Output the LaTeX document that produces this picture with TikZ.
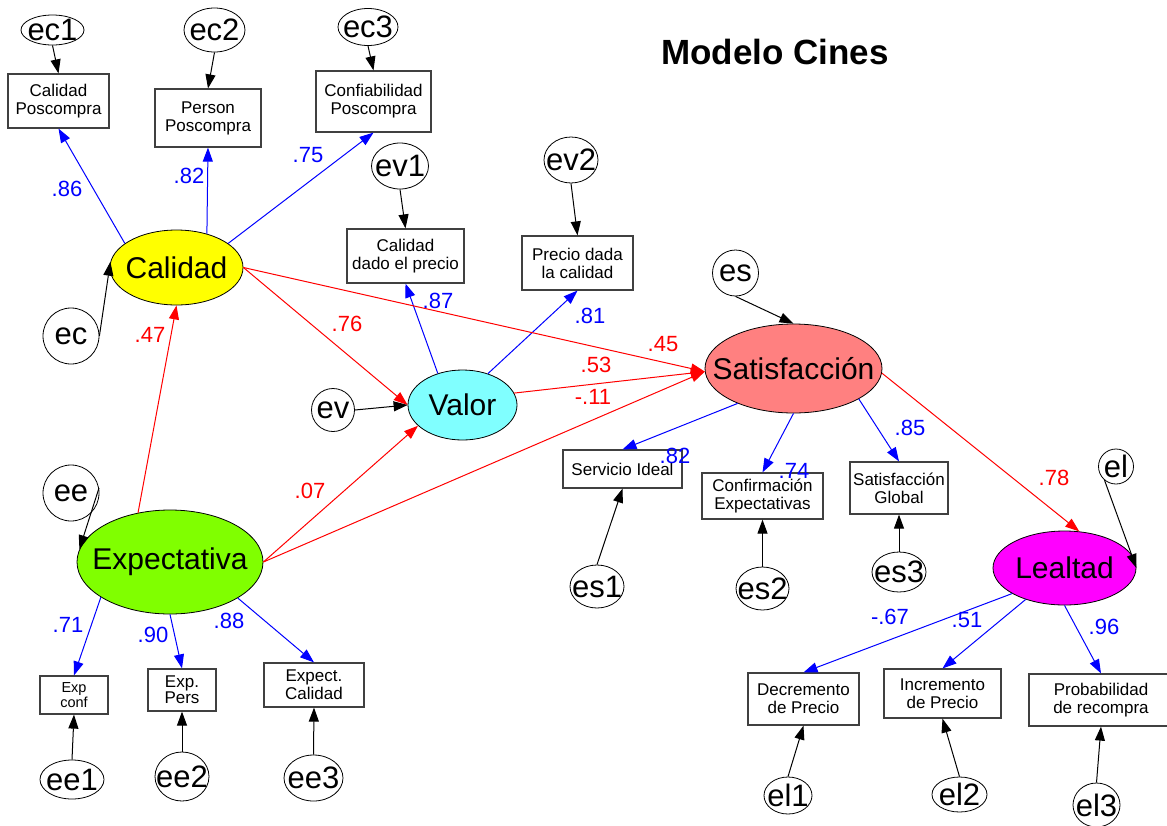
\documentclass[tikz,border=0pt]{standalone}
\usepackage{fontspec}
\setmainfont{Liberation Sans}
\usetikzlibrary{shapes.geometric,arrows.meta}
\definecolor{amosyellow}{RGB}{255,255,0}
\definecolor{amosgreen}{RGB}{128,255,0}
\definecolor{amoscyan}{RGB}{128,255,255}
\definecolor{amossalmon}{RGB}{255,128,128}
\definecolor{amosmagenta}{RGB}{255,0,255}

\tikzset{
  latent/.style={ellipse, draw, line width=0.8pt, inner sep=0pt,
    label={[inner sep=0pt, font=\fontsize{30}{32}\selectfont]center:#1}},
  err/.style={ellipse, draw, line width=0.8pt, inner sep=0pt,
    label={[inner sep=0pt, font=\fontsize{31}{33}\selectfont]center:#1}},
  obs/.style={rectangle, draw=black!75, line width=1.2pt, inner sep=0pt,
    align=center, font=\fontsize{17}{18}\selectfont},
  coef/.style={inner sep=0pt, font=\fontsize{22}{24}\selectfont},
  tip/.style={-{Triangle[length=14pt,width=10pt]}, line width=1pt},
  load/.style={tip, blue},
  reg/.style={tip, red},
  res/.style={tip, black}
}

\begin{document}
\begin{tikzpicture}[x=1pt, y=-1pt]
    \useasboundingbox (0,0) rectangle (1167,825);

    \node[font=\bfseries\fontsize{35}{38}\selectfont] (titulo) at (775,52) {Modelo Cines};

    % latentes
    \node[latent=Calidad, fill=amosyellow, minimum width=133pt, minimum height=75pt] (Cal) at (176.5,267.5) {};
    \node[latent=Expectativa, fill=amosgreen, minimum width=186pt, minimum height=104pt] (Exp) at (170,562) {};
    \node[latent=Valor, fill=amoscyan, minimum width=109pt, minimum height=70pt] (Val) at (462.5,405) {};
    \node[latent=Satisfacción, fill=amossalmon, minimum width=177pt, minimum height=89pt] (Sat) at (793.5,368.5) {};
    \node[latent=Lealtad, fill=amosmagenta, minimum width=143pt, minimum height=74pt] (Lea) at (1064.5,568) {};

    % indicadores
    \node[obs, minimum width=101pt, minimum height=54pt] (CalPos) at (58.5,101) {Calidad\\Poscompra};
    \node[obs, minimum width=106pt, minimum height=58pt] (PerPos) at (208,118) {Person\\Poscompra};
    \node[obs, minimum width=115pt, minimum height=61pt] (ConfPos) at (373.5,101.5) {Confiabilidad\\Poscompra};
    \node[obs, minimum width=117pt, minimum height=54pt] (CalDado) at (405.5,256) {Calidad\\dado el precio};
    \node[obs, minimum width=111pt, minimum height=54pt] (PreCal) at (577.5,263) {Precio dada\\la calidad};
    \node[obs, minimum width=119pt, minimum height=38pt] (ServId) at (622.5,469) {Servicio Ideal};
    \node[obs, minimum width=121pt, minimum height=46pt] (ConfExp) at (762.5,496) {Confirmación\\Expectativas};
    \node[obs, minimum width=98pt, minimum height=52pt] (SatGlob) at (899,488) {Satisfacción\\Global};
    \node[obs, minimum width=111pt, minimum height=52pt] (DecPre) at (803.5,699) {Decremento\\de Precio};
    \node[obs, minimum width=117pt, minimum height=49pt] (IncPre) at (942.5,693.5) {Incremento\\de Precio};
    \node[obs, minimum width=144pt, minimum height=52pt] (ProbRec) at (1101,700) {Probabilidad\\de recompra};
    \node[obs, minimum width=68pt, minimum height=38pt, font=\fontsize{14.5}{15}\selectfont] (ExpConf) at (74,695) {Exp\\conf};
    \node[obs, minimum width=68pt, minimum height=42pt, font=\fontsize{17}{15}\selectfont] (ExpPers) at (182,690) {Exp.\\Pers};
    \node[obs, minimum width=100pt, minimum height=44pt] (ExpCal) at (314,685) {Expect.\\Calidad};

    % errores
    \node[err=ec1, minimum width=63pt, minimum height=30pt] (ec1) at (52.5,30) {};
    \node[err=ec2, minimum width=61pt, minimum height=44pt] (ec2) at (214.5,30) {};
    \node[err=ec3, minimum width=60pt, minimum height=37pt] (ec3) at (368,27) {};
    \node[err=ec, minimum width=56pt, minimum height=56pt] (ec) at (71,336) {};
    \node[err=ee, minimum width=56pt, minimum height=56pt] (ee) at (71,493) {};
    \node[err=ev, minimum width=43pt, minimum height=43pt] (ev) at (333,410) {};
    \node[err=ev1, minimum width=57pt, minimum height=46pt] (ev1) at (400,166) {};
    \node[err=ev2, minimum width=54pt, minimum height=46pt] (ev2) at (571,160) {};
    \node[err=es, minimum width=46pt, minimum height=46pt] (es) at (735.5,273) {};
    \node[err=es1, minimum width=54pt, minimum height=43pt] (es1) at (597,586.5) {};
    \node[err=es2, minimum width=53pt, minimum height=43pt] (es2) at (762.5,588.5) {};
    \node[err=es3, minimum width=54pt, minimum height=40pt] (es3) at (899,572) {};
    \node[err=el, minimum width=35pt, minimum height=35pt] (el) at (1116,466.5) {};
    \node[err=el1, minimum width=48pt, minimum height=37pt] (el1) at (788,795.5) {};
    \node[err=el2, minimum width=55pt, minimum height=35pt] (el2) at (959.5,794.5) {};
    \node[err=el3, minimum width=47pt, minimum height=44pt] (el3) at (1096.5,805) {};
    \node[err=ee1, minimum width=64pt, minimum height=39pt] (ee1) at (72,779.5) {};
    \node[err=ee2, minimum width=54pt, minimum height=49pt] (ee2) at (182,776.5) {};
    \node[err=ee3, minimum width=59pt, minimum height=46pt] (ee3) at (313.5,778) {};

    % cargas
    \path (Cal.155) edge [load] (CalPos.south)
          (Cal.48) edge [load] (PerPos.south)
          (Cal.25) edge [load] (ConfPos.south)
          (Val.128) edge [load] (CalDado.south)
          (Val.51) edge [load] (PreCal.south)
          (Sat.212) edge [load] (ServId.north)
          (Sat.south) edge [load] (ConfExp.north)
          (Sat.-25) edge [load] (SatGlob.north)
          (Lea.206) edge [load] (DecPre.north)
          (Lea.219) edge [load] (IncPre.north)
          (Lea.south) edge [load] (ProbRec.north)
          (Exp.207) edge [load] (ExpConf.north)
          (Exp.south) edge [load] (ExpPers.north)
          (Exp.-28) edge [load] (ExpCal.north);

    % regresiones
    \path (Exp.123) edge [reg] (Cal.south)
          (Cal.east) edge [reg] (Val.west)
          (Cal.east) edge [reg] (Sat.182)
          (Exp.east) edge [reg] (Val.205)
          (Exp.east) edge [reg] (Sat.182)
          (Val.13) edge [reg] (Sat.182)
          (Sat.-3) edge [reg] (Lea.68);

    % residuos
    \path (ec1.south) edge [res] (CalPos.north)
          (ec2.south) edge [res] (PerPos.north)
          (ec3.south) edge [res] (ConfPos.north)
          (ev1.south) edge [res] (CalDado.north)
          (ev2.south) edge [res] (PreCal.north)
          (ec.east) edge [res] (Cal.175)
          (ee.10) edge [res] (Exp.172)
          (ev.east) edge [res] (Val.west)
          (es.south) edge [res] (Sat.north)
          (es1.north) edge [res] (ServId.south)
          (es2.north) edge [res] (ConfExp.south)
          (es3.north) edge [res] (SatGlob.south)
          (el.230) edge [res] (Lea.east)
          (el1.north) edge [res] (DecPre.south)
          (el2.north) edge [res] (IncPre.south)
          (el3.north) edge [res] (ProbRec.south)
          (ee1.north) edge [res] (ExpConf.south)
          (ee2.north) edge [res] (ExpPers.south)
          (ee3.north) edge [res] (ExpCal.south);

    % coeficientes
    \node[coef, blue] (c86) at (67,189) {.86};
    \node[coef, blue] (c82a) at (189,176) {.82};
    \node[coef, blue] (c75) at (308,155) {.75};
    \node[coef, red] (c47) at (150,335) {.47};
    \node[coef, red] (c76) at (347,324) {.76};
    \node[coef, blue] (c87) at (438,301) {.87};
    \node[coef, blue] (c81) at (590,316) {.81};
    \node[coef, red] (c45) at (663,344) {.45};
    \node[coef, red] (c53) at (596,365) {.53};
    \node[coef, red] (c11) at (593,397) {-.11};
    \node[coef, red] (c07) at (310,491) {.07};
    \node[coef, blue] (c71) at (68,625) {.71};
    \node[coef, blue] (c90) at (153,635) {.90};
    \node[coef, blue] (c88) at (229,621) {.88};
    \node[coef, blue] (c82b) at (675,456) {.82};
    \node[coef, blue] (c74) at (794,471) {.74};
    \node[coef, blue] (c85) at (910,428) {.85};
    \node[coef, red] (c78) at (1054,478) {.78};
    \node[coef, blue] (c67) at (890,617) {-.67};
    \node[coef, blue] (c51) at (967,620) {.51};
    \node[coef, blue] (c96) at (1104,627) {.96};
\end{tikzpicture}
\end{document}
